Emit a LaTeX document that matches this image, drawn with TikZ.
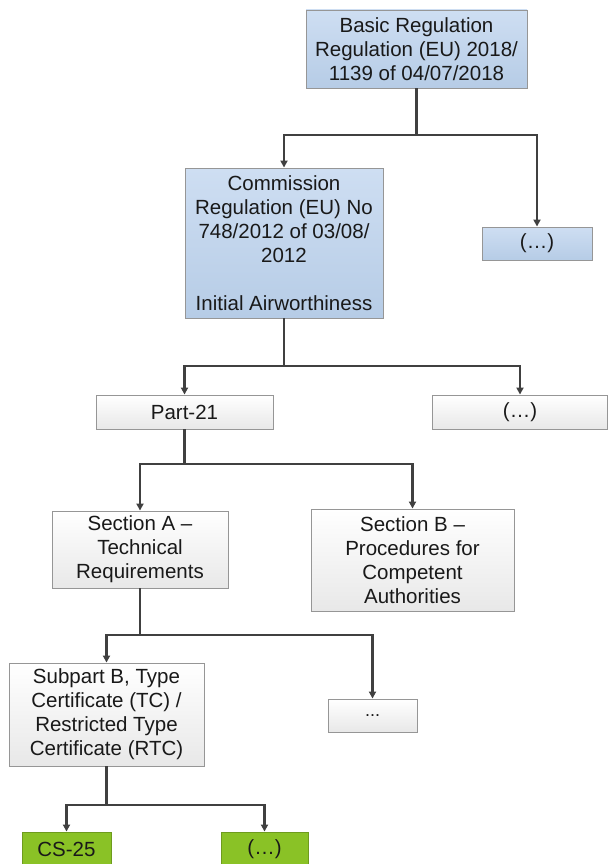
\documentclass[tikz,border=0pt]{standalone}
\usepackage{fontspec}
\setmainfont{Liberation Sans}
\usetikzlibrary{arrows.meta}
\definecolor{txt}{RGB}{25,25,25}
\definecolor{linec}{RGB}{64,64,64}
\definecolor{bordc}{RGB}{150,150,150}
\definecolor{bluetop}{RGB}{206,222,242}
\definecolor{bluebot}{RGB}{182,204,230}
\definecolor{greyboxbot}{RGB}{232,232,232}
\definecolor{greenc}{RGB}{138,194,38}
\tikzset{
  base/.style={draw=bordc, line width=0.9pt, align=center, text=txt, inner sep=0pt,
    font=\fontsize{20.5}{24}\selectfont},
  bluebox/.style={base, top color=bluetop, bottom color=bluebot},
  greybox/.style={base, top color=white, bottom color=greyboxbot},
  greenbox/.style={base, draw=greenc!80!black, fill=greenc},
  conn/.style={draw=linec, line width=2.2pt},
  arr/.style={conn, -{Triangle[length=7pt,width=7pt]}}
}
\begin{document}
\begin{tikzpicture}[x=1pt,y=-1pt]
\useasboundingbox (0,0) rectangle (608,864);
\begin{scope}
\clip (0,0) rectangle (608,864);
% nodes
\node[bluebox, minimum width=221, minimum height=78] (b1) at (416.5,49)
  {Basic Regulation\\Regulation (EU) 2018/\\1139 of 04/07/2018};
\node[bluebox, minimum width=198, minimum height=150] (b2) at (284,243)
  {Commission\\Regulation (EU) No\\748/2012 of 03/08/\\2012\\[24pt]Initial Airworthiness};
\node[bluebox, minimum width=110, minimum height=33] (b3) at (537,243.5) {(…)};
\node[greybox, minimum width=177, minimum height=34] (p21) at (184.5,412) {Part-21};
\node[greybox, minimum width=175, minimum height=34] (p2) at (520,412) {(…)};
\node[greybox, minimum width=176, minimum height=77] (sa) at (140,549.5)
  {Section A –\\Technical\\Requirements};
\node[greybox, minimum width=203, minimum height=102] (sb) at (412.5,560)
  {Section B –\\Procedures for\\Competent\\Authorities};
\node[greybox, minimum width=195, minimum height=103] (sub) at (106.5,714.5)
  {Subpart B, Type\\Certificate (TC) /\\Restricted Type\\Certificate (RTC)};
\node[greybox, minimum width=89, minimum height=33, font=\fontsize{18}{20}\selectfont] (dots) at (372.5,715.5) {...};
\node[greenbox, minimum width=89, minimum height=34] (cs) at (66.5,849) {CS-25};
\node[greenbox, minimum width=87, minimum height=34] (g2) at (264.5,849) {(…)};
% junctions
\coordinate (j1) at (416.5,135);
\coordinate (j2) at (284,366);
\coordinate (j3) at (184.5,464);
\coordinate (j4) at (140,635);
\coordinate (j5) at (106.5,805);
% connectors
\draw[conn] (b1.south) -- (j1);
\draw[arr] (j1) -| (b2.north);
\draw[arr] (j1) -| (b3.north);
\draw[conn] (b2.south) -- (j2);
\draw[arr] (j2) -| (p21.north);
\draw[arr] (j2) -| (p2.north);
\draw[conn] (p21.south) -- (j3);
\draw[arr] (j3) -| (sa.north);
\draw[arr] (j3) -| (sb.north);
\draw[conn] (sa.south) -- (j4);
\draw[arr] (j4) -| (sub.north);
\draw[arr] (j4) -| (dots.north);
\draw[conn] (sub.south) -- (j5);
\draw[arr] (j5) -| (cs.north);
\draw[arr] (j5) -| (g2.north);
\end{scope}
\end{tikzpicture}
\end{document}
